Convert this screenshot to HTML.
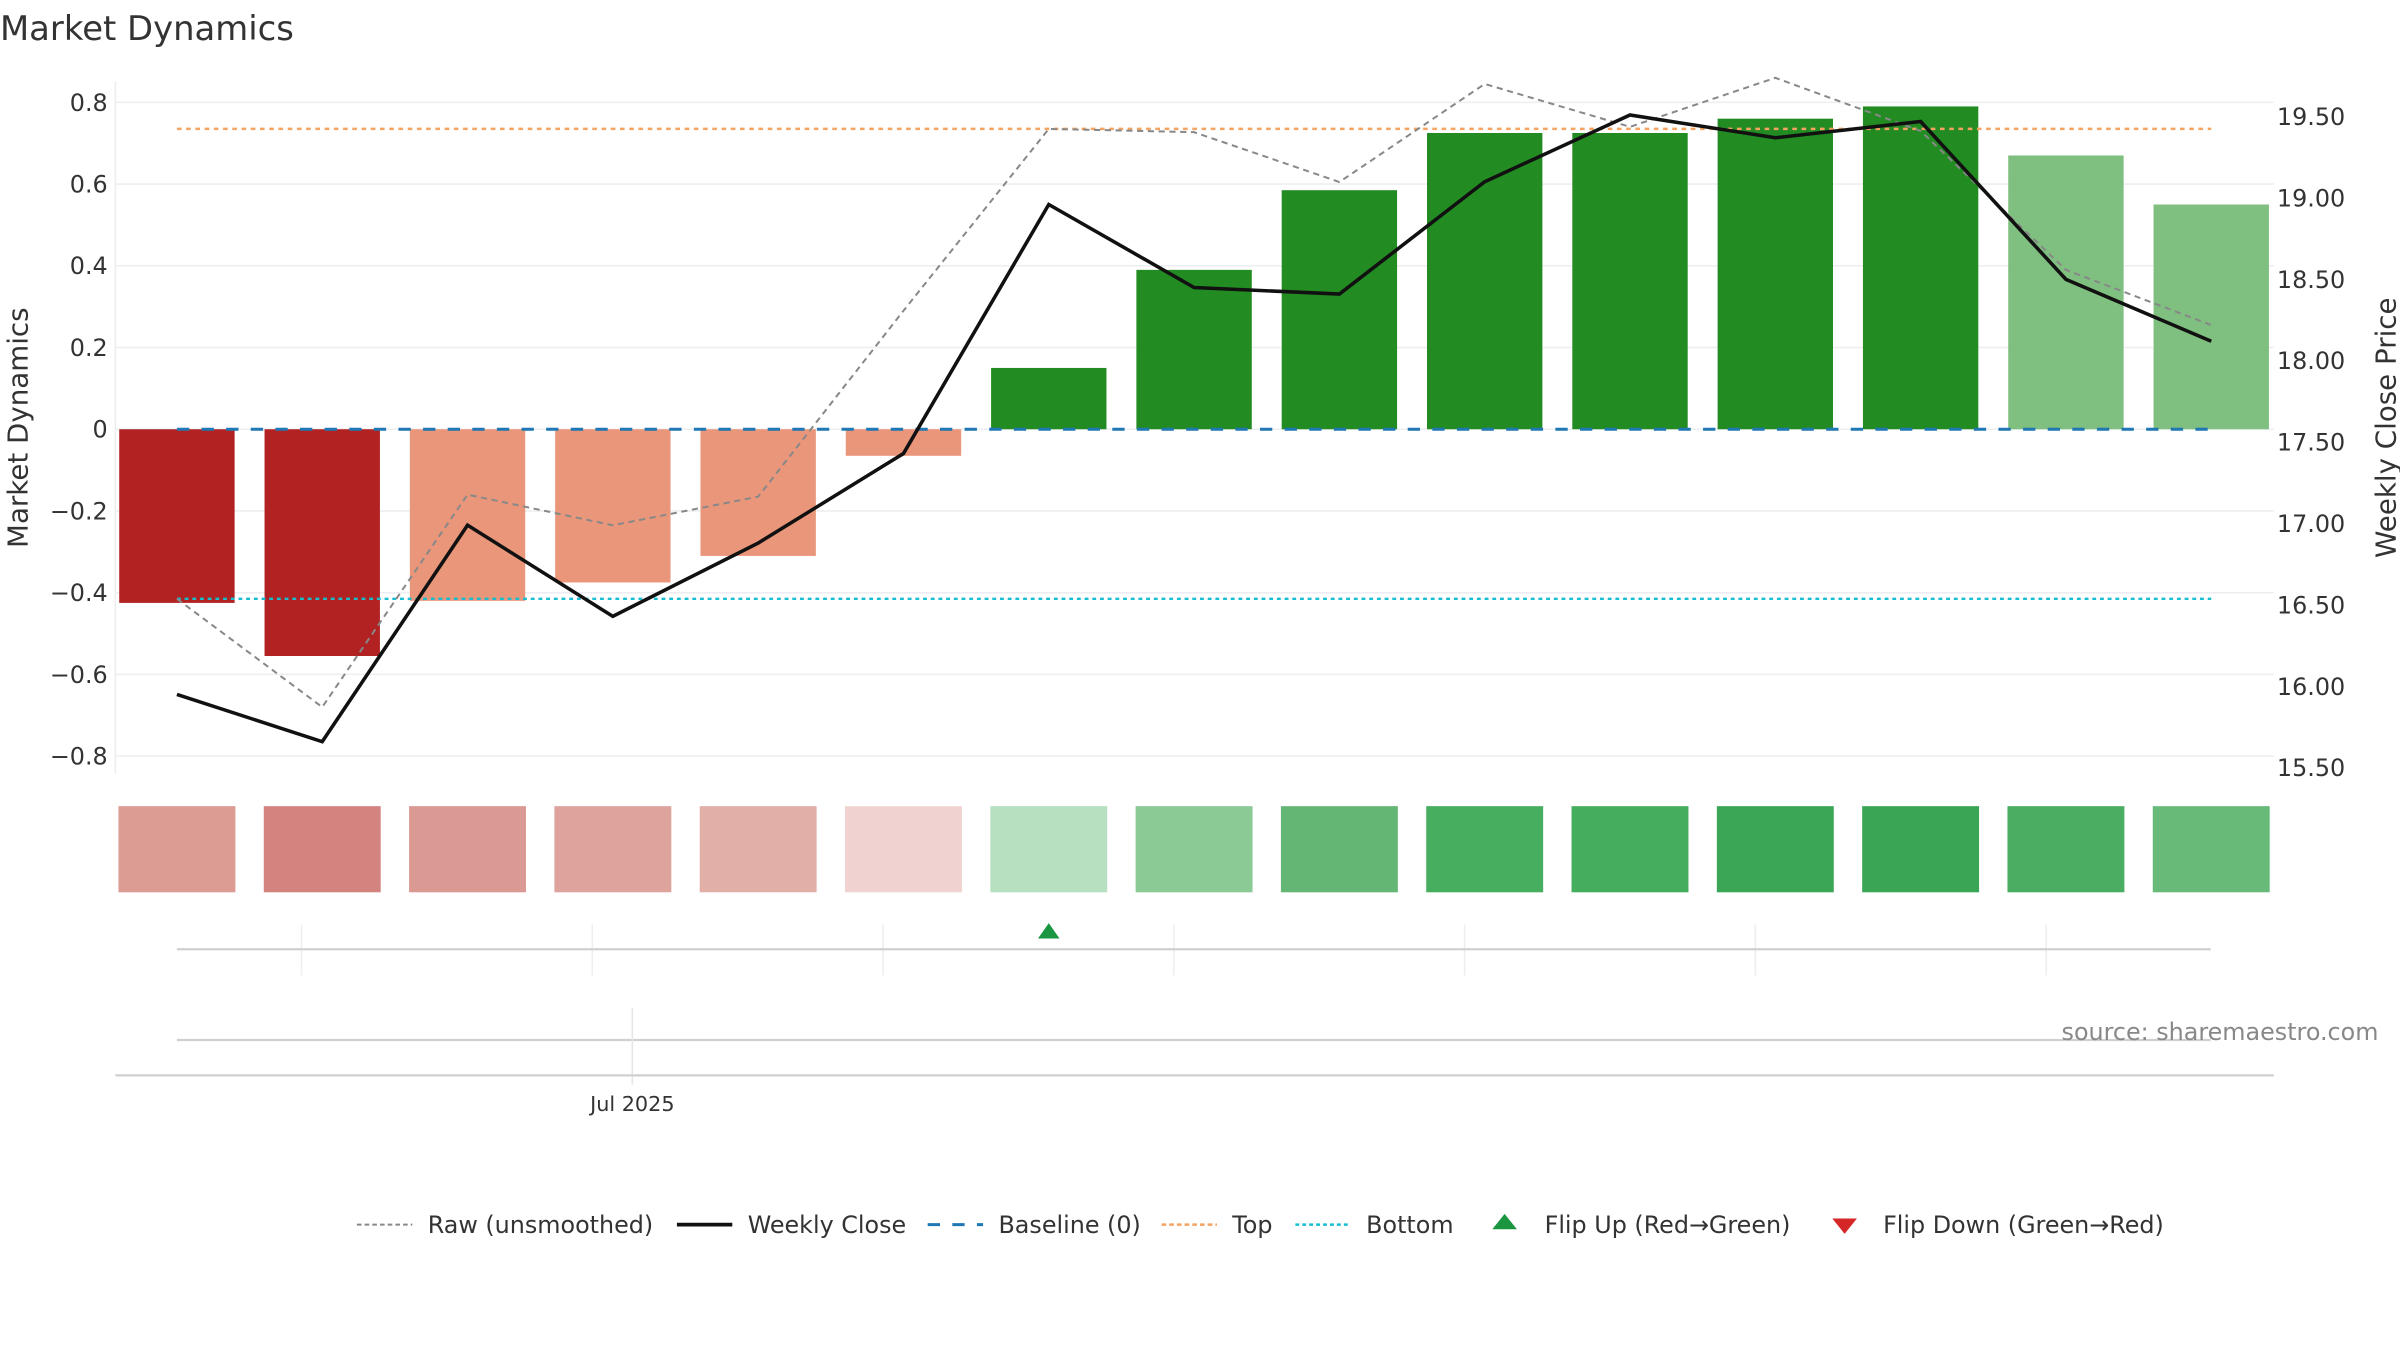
<!DOCTYPE html>
<html><head><meta charset="utf-8"><style>
html,body{margin:0;padding:0;background:#fff;}
svg{display:block;font-family:"DejaVu Sans","Liberation Sans",sans-serif;}
</style></head><body>
<svg id="chart" width="2400" height="1350" viewBox="0 0 1560 877.5" xmlns="http://www.w3.org/2000/svg">
<text x="0" y="26" font-size="22" fill="#333">Market Dynamics</text>
<g id="grid"></g><g id="bars"></g><g id="lines"></g><g id="axes"></g><g id="strip"></g><g id="lower"></g><g id="legend"></g>
</svg>
<script>
const categories = ["W1","W2","W3","W4","W5","W6","W7","W8","W9","W10","W11","W12","W13","W14","W15"];
const dynamics = [-0.425,-0.555,-0.42,-0.375,-0.31,-0.065,0.15,0.39,0.585,0.725,0.725,0.76,0.79,0.67,0.55];
const barColors = ["#b22222","#b22222","#e9967a","#e9967a","#e9967a","#e9967a","#228b22","#228b22","#228b22","#228b22","#228b22","#228b22","#228b22","#7fbf7f","#7fbf7f"];
const rawValues = [-0.415,-0.68,-0.16,-0.235,-0.165,0.29,0.735,0.727,0.605,0.845,0.74,0.86,0.73,0.39,0.255];
const weeklyClose = [15.95,15.66,16.99,16.43,16.88,17.43,18.96,18.45,18.41,19.10,19.51,19.37,19.47,18.50,18.12];
const stripColors = ["#dc9b93","#d4847e","#db9994","#dea39d","#e2aea8","#f0d3d0","#b7e0c0","#8bca95","#64b674","#47ad5f","#45ad5e","#3ba656","#3aa655","#4aad62","#68ba79"];
const topLevel = 0.735;
const bottomLevel = -0.415;
const flipUpIndex = [6];
const leftTicks = [0.8,0.6,0.4,0.2,0,-0.2,-0.4,-0.6,-0.8];
const leftTickLabels = ["0.8","0.6","0.4","0.2","0","\u22120.2","\u22120.4","\u22120.6","\u22120.8"];
const rightTicks = [19.5,19.0,18.5,18.0,17.5,17.0,16.5,16.0,15.5];
const rightTickLabels = ["19.50","19.00","18.50","18.00","17.50","17.00","16.50","16.00","15.50"];

const NS="http://www.w3.org/2000/svg";
function mk(parent,tag,attrs,text){const e=document.createElementNS(NS,tag);for(const k in attrs)e.setAttribute(k,attrs[k]);if(text!==undefined)e.textContent=text;document.getElementById(parent).appendChild(e);return e;}
const xPos=i=>115+i*94.45;
const yL=v=>279-v*265.6;
const yR=v=>499-(v-15.5)*105.8;
const BW=75;

leftTicks.forEach((t,i)=>{
 const g=mk("grid","line",{x1:75,x2:1478,y1:yL(t),y2:yL(t),stroke:"#eceef0","stroke-width":1});
 
 
 const l=mk("axes","text",{x:70,y:yL(t)+5.5,"font-size":15.5,fill:"#333","text-anchor":"end"},leftTickLabels[i]);
 
 
});
rightTicks.forEach((t,i)=>{
 const l=mk("axes","text",{x:1480,y:yR(t)+5.5,"font-size":15.5,fill:"#333"},rightTickLabels[i]);
 
 
});
const la=mk("axes","line",{x1:75,x2:75,y1:53,y2:503,stroke:"#eceef0"});


const yt=mk("axes","text",{x:0,y:0,"font-size":18,fill:"#333","text-anchor":"middle",transform:"translate(18,278) rotate(-90)"},"Market Dynamics");


const yt2=mk("axes","text",{x:0,y:0,"font-size":18,fill:"#333","text-anchor":"middle",transform:"translate(1557,278) rotate(-90)"},"Weekly Close Price");



dynamics.forEach((v,i)=>{
 const y0=yL(0),y1=yL(v);
 const b=mk("bars","rect",{x:xPos(i)-BW/2,y:Math.min(y0,y1),width:BW,height:Math.abs(y1-y0),fill:barColors[i]});
 
 
 const s=mk("strip","rect",{x:xPos(i)-38,y:524,width:76,height:56,fill:stripColors[i]});
 
 
});
const x0=xPos(0),xN=xPos(categories.length-1);
const tl=mk("lines","line",{x1:x0,x2:xN,y1:yL(topLevel),y2:yL(topLevel),stroke:"#f4a460","stroke-width":1.6,"stroke-dasharray":"3 3"});


const bl=mk("lines","line",{x1:x0,x2:xN,y1:yL(bottomLevel),y2:yL(bottomLevel),stroke:"#17becf","stroke-width":1.6,"stroke-dasharray":"2.5 2.5"});


const base=mk("lines","line",{x1:x0,x2:xN,y1:yL(0),y2:yL(0),stroke:"#1f77b4","stroke-width":2,"stroke-dasharray":"8 8"});


const raw=mk("lines","polyline",{points:rawValues.map((v,i)=>xPos(i)+","+yL(v)).join(" "),fill:"none",stroke:"#888","stroke-width":1.3,"stroke-dasharray":"4 3"});


const wc=mk("lines","polyline",{points:weeklyClose.map((v,i)=>xPos(i)+","+yR(v)).join(" "),fill:"none",stroke:"#111","stroke-width":2.3});



[196,385,574,763,952,1141,1330].forEach(x=>{
 const v=mk("lower","line",{x1:x,x2:x,y1:601,y2:634,stroke:"#eceef0"});
 
 
});
const fa=mk("lower","line",{x1:115,x2:1437,y1:617,y2:617,stroke:"#d0d0d0","stroke-width":1.5});


flipUpIndex.forEach(i=>{
 const m=mk("lower","path",{d:`M${xPos(i)},600 L${xPos(i)-7},610 L${xPos(i)+7},610 Z`,fill:"#1a9641"});
 
 
});
const a2=mk("lower","line",{x1:115,x2:1437,y1:676,y2:676,stroke:"#d0d0d0","stroke-width":1.5});


const jl=mk("lower","line",{x1:411,x2:411,y1:655,y2:705,stroke:"#e4e6e8"});


const xa=mk("lower","line",{x1:75,x2:1478,y1:699,y2:699,stroke:"#d0d0d0","stroke-width":1.5});


const jt=mk("lower","text",{x:411,y:722,"font-size":13.5,fill:"#333","text-anchor":"middle"},"Jul 2025");


const src=mk("lower","text",{x:1546,y:676,"font-size":15.5,fill:"#888","text-anchor":"end"},"source: sharemaestro.com");



const LY=796;
function legLine(x,attrs,label,name){
 const g=mk("legend","line",Object.assign({x1:x,x2:x+36,y1:LY,y2:LY},attrs));
 
 
 const t=mk("legend","text",{x:x+46,y:LY+5.5,"font-size":15.5,fill:"#333"},label);
 
 
}
legLine(232,{stroke:"#888","stroke-width":1.3,"stroke-dasharray":"3 2"},"Raw (unsmoothed)","legend-raw");
legLine(440,{stroke:"#111","stroke-width":2.5},"Weekly Close","legend-weekly-close");
legLine(603,{stroke:"#1f77b4","stroke-width":2,"stroke-dasharray":"8 8"},"Baseline (0)","legend-baseline");
legLine(755,{stroke:"#f4a460","stroke-width":1.6,"stroke-dasharray":"3 2"},"Top","legend-top");
legLine(842,{stroke:"#17becf","stroke-width":1.6,"stroke-dasharray":"2.5 2"},"Bottom","legend-bottom");
const u=mk("legend","path",{d:`M978,789 L970,799 L986,799 Z`,fill:"#1a9641"});


const ut=mk("legend","text",{x:1004,y:LY+5.5,"font-size":15.5,fill:"#333"},"Flip Up (Red\u2192Green)");


const d=mk("legend","path",{d:`M1191,792 L1207,792 L1199,802 Z`,fill:"#d62728"});


const dt=mk("legend","text",{x:1224,y:LY+5.5,"font-size":15.5,fill:"#333"},"Flip Down (Green\u2192Red)");


</script>
</body></html>
